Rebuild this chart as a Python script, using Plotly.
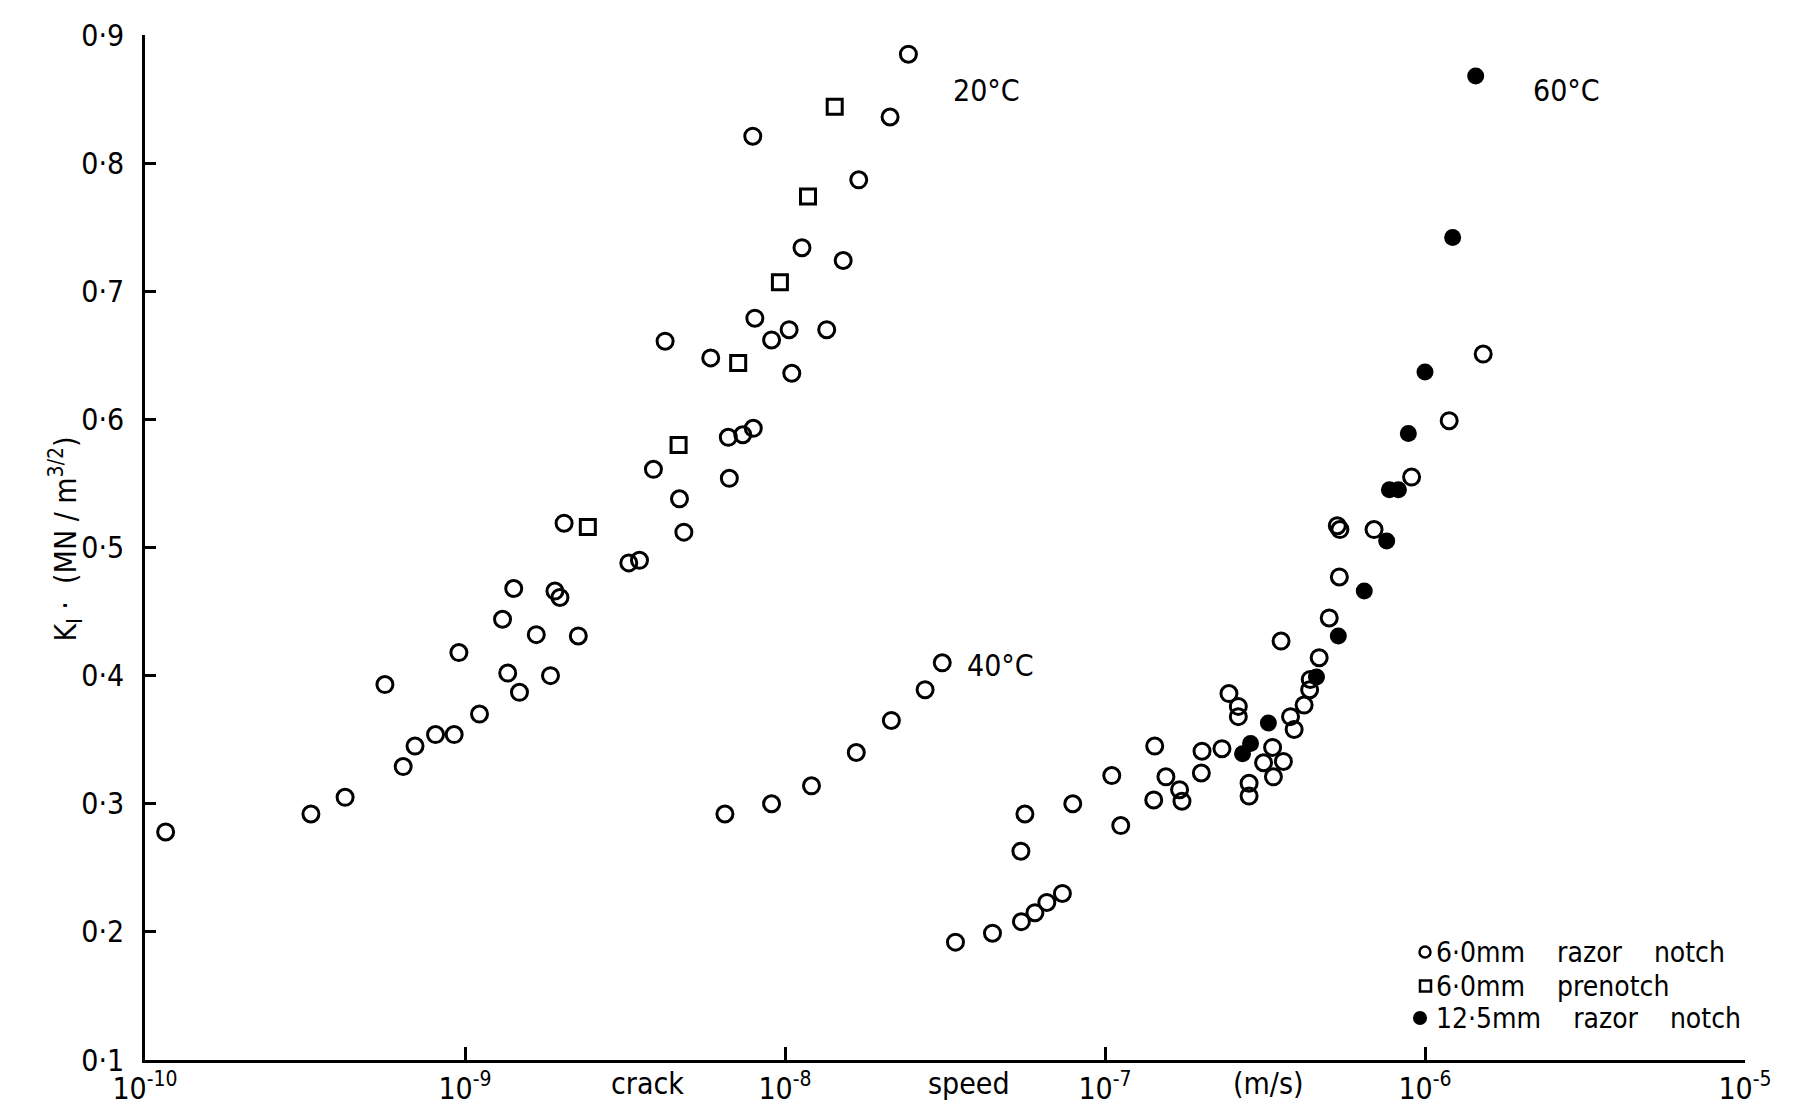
import math
import plotly.graph_objects as go

# Crack speed (m/s) and stress intensity K_I (MN/m^3/2)

# 20 C, 6.0 mm razor notch
speed_20_razor = [1.16e-10, 3.30e-10, 4.22e-10, 5.62e-10, 6.41e-10, 6.98e-10, 8.09e-10, 9.25e-10,
                  9.57e-10, 1.11e-9, 1.31e-9, 1.36e-9, 1.42e-9, 1.48e-9, 1.67e-9, 1.85e-9,
                  1.91e-9, 1.98e-9, 2.04e-9, 2.26e-9, 3.25e-9, 3.51e-9, 3.88e-9, 4.22e-9,
                  4.68e-9, 4.83e-9, 5.86e-9, 6.65e-9, 6.70e-9, 7.38e-9, 7.93e-9, 7.96e-9,
                  8.05e-9, 9.08e-9, 1.03e-8, 1.05e-8, 1.13e-8, 1.35e-8, 1.52e-8, 1.70e-8,
                  2.13e-8, 2.43e-8]
k_20_razor = [0.278, 0.292, 0.305, 0.393, 0.329, 0.345, 0.354, 0.354,
              0.418, 0.370, 0.444, 0.402, 0.468, 0.387, 0.432, 0.400,
              0.466, 0.461, 0.519, 0.431, 0.488, 0.490, 0.561, 0.661,
              0.538, 0.512, 0.648, 0.586, 0.554, 0.588, 0.821, 0.593,
              0.679, 0.662, 0.670, 0.636, 0.734, 0.670, 0.724, 0.787,
              0.836, 0.885]

# 20 C, 6.0 mm prenotch
speed_20_prenotch = [2.42e-9, 4.65e-9, 7.14e-9, 9.64e-9, 1.18e-8, 1.43e-8]
k_20_prenotch = [0.516, 0.580, 0.644, 0.707, 0.774, 0.844]

# 40 C, 6.0 mm razor notch
speed_40_razor = [6.49e-9, 9.08e-9, 1.21e-8, 1.67e-8, 2.15e-8, 2.74e-8, 3.10e-8]
k_40_razor = [0.292, 0.300, 0.314, 0.340, 0.365, 0.389, 0.410]

# 60 C, 6.0 mm razor notch
speed_60_razor = [3.41e-8, 4.45e-8, 5.48e-8, 5.46e-8, 5.62e-8, 6.04e-8, 6.58e-8, 7.36e-8,
                  7.93e-8, 1.05e-7, 1.12e-7, 1.43e-7, 1.42e-7, 1.55e-7, 1.71e-7, 1.74e-7,
                  2.01e-7, 2.00e-7, 2.32e-7, 2.44e-7, 2.61e-7, 2.61e-7, 2.82e-7, 2.82e-7,
                  3.13e-7, 3.34e-7, 3.36e-7, 3.55e-7, 3.61e-7, 3.80e-7, 3.90e-7, 4.19e-7,
                  4.36e-7, 4.38e-7, 4.67e-7, 5.02e-7, 5.32e-7, 5.40e-7, 5.42e-7, 6.93e-7,
                  9.08e-7, 1.19e-6, 1.52e-6]
k_60_razor = [0.192, 0.199, 0.208, 0.263, 0.292, 0.215, 0.223, 0.230,
              0.300, 0.322, 0.283, 0.345, 0.303, 0.321, 0.311, 0.302,
              0.341, 0.324, 0.343, 0.386, 0.376, 0.368, 0.316, 0.306,
              0.332, 0.344, 0.321, 0.427, 0.333, 0.368, 0.358, 0.377,
              0.389, 0.397, 0.414, 0.445, 0.517, 0.477, 0.514, 0.514,
              0.555, 0.599, 0.651]

# 60 C, 12.5 mm razor notch
speed_60_thick = [2.69e-7, 2.85e-7, 3.24e-7, 4.58e-7, 5.36e-7, 6.46e-7, 7.59e-7, 7.74e-7,
                  8.26e-7, 8.87e-7, 1.00e-6, 1.22e-6, 1.44e-6]
k_60_thick = [0.339, 0.347, 0.363, 0.399, 0.431, 0.466, 0.505, 0.545,
              0.545, 0.589, 0.637, 0.742, 0.868]

x_tick_vals = [1e-10, 1e-9, 1e-8, 1e-7, 1e-6, 1e-5]
x_tick_text = ["10<sup>-10</sup>", "10<sup>-9</sup>", "10<sup>-8</sup>",
               "10<sup>-7</sup>", "10<sup>-6</sup>", "10<sup>-5</sup>"]
y_tick_vals = [0.1, 0.2, 0.3, 0.4, 0.5, 0.6, 0.7, 0.8, 0.9]
y_tick_text = ["0·1", "0·2", "0·3", "0·4", "0·5", "0·6", "0·7", "0·8", "0·9"]

temp_labels = ["20°C", "40°C", "60°C"]
temp_label_x = [4.25e-8, 4.73e-8, 2.76e-6]
temp_label_y = [0.857, 0.408, 0.857]

axis_words = ["crack", "speed", "(m/s)"]
axis_word_x = [3.73e-9, 3.77e-8, 3.24e-7]

key_labels = ["6·0mm  razor  notch", "6·0mm  prenotch", "12·5mm  razor  notch"]

FONT = "DejaVu Sans Condensed, DejaVu Sans, sans-serif"
INK = "#000000"
SP = "\u00a0"

# figure geometry (px)
W, H = 1803, 1105
ML, MR, MT, MB = 145, 58, 35, 45
PW, PH = W - ML - MR, H - MT - MB


def px_x(p):
    return (p - ML) / PW


def px_y(p):
    return (H - MB - p) / PH


open_marker = dict(symbol="circle-open", size=16, color=INK, line=dict(width=3, color=INK))
square_marker = dict(symbol="square-open", size=15, color=INK, line=dict(width=3, color=INK))
solid_marker = dict(symbol="circle", size=17, color=INK, line=dict(width=0))

fig = go.Figure()
fig.add_trace(go.Scatter(x=speed_20_razor, y=k_20_razor, mode="markers", marker=open_marker,
                         name=key_labels[0] + ", 20°C"))
fig.add_trace(go.Scatter(x=speed_20_prenotch, y=k_20_prenotch, mode="markers", marker=square_marker,
                         name=key_labels[1] + ", 20°C"))
fig.add_trace(go.Scatter(x=speed_40_razor, y=k_40_razor, mode="markers", marker=open_marker,
                         name=key_labels[0] + ", 40°C"))
fig.add_trace(go.Scatter(x=speed_60_razor, y=k_60_razor, mode="markers", marker=open_marker,
                         name=key_labels[0] + ", 60°C"))
fig.add_trace(go.Scatter(x=speed_60_thick, y=k_60_thick, mode="markers", marker=solid_marker,
                         name=key_labels[2] + ", 60°C"))

# temperature labels next to each data group
for txt, tx, ty in zip(temp_labels, temp_label_x, temp_label_y):
    fig.add_annotation(x=math.log10(tx), y=ty, xref="x", yref="y", text=txt, showarrow=False,
                       font=dict(family=FONT, size=30, color=INK))

# axis title spread between the x tick labels
for txt, wx in zip(axis_words, axis_word_x):
    fig.add_annotation(x=math.log10(wx), y=px_y(1083), xref="x", yref="paper", text=txt,
                       showarrow=False, yanchor="middle",
                       font=dict(family=FONT, size=30, color=INK))

fig.add_annotation(x=px_x(42), y=px_y(539), xref="paper", yref="paper",
                   text="K<sub>I</sub>" + SP + "·" + SP * 2 + "(MN" + SP + "/" + SP + "m<sup>3/2</sup>)",
                   textangle=-90, showarrow=False,
                   font=dict(family=FONT, size=30, color=INK))

# key in the lower right corner
key_rows_y = [952, 986, 1018]
key_text_x = 1434
for label, ry in zip(key_labels, key_rows_y):
    fig.add_annotation(x=px_x(key_text_x), y=px_y(ry), xref="paper", yref="paper",
                       text=label.replace("  ", SP * 4), showarrow=False,
                       xanchor="left", yanchor="middle",
                       font=dict(family=FONT, size=28, color=INK))

r = 5.5
cy = key_rows_y[0]
fig.add_shape(type="circle", xref="paper", yref="paper",
              x0=px_x(1425 - r), x1=px_x(1425 + r), y0=px_y(cy + r), y1=px_y(cy - r),
              line=dict(color=INK, width=2.5), fillcolor="white")
cy = key_rows_y[1]
fig.add_shape(type="rect", xref="paper", yref="paper",
              x0=px_x(1420), x1=px_x(1431), y0=px_y(cy + 5.5), y1=px_y(cy - 5.5),
              line=dict(color=INK, width=2.5), fillcolor="white")
cy = key_rows_y[2]
r = 7
fig.add_shape(type="circle", xref="paper", yref="paper",
              x0=px_x(1420 - r), x1=px_x(1420 + r), y0=px_y(cy + r), y1=px_y(cy - r),
              line=dict(color=INK, width=0), fillcolor=INK)

fig.update_xaxes(type="log", range=[-10, -5], tickvals=x_tick_vals, ticktext=x_tick_text,
                 ticks="inside", ticklen=13, tickwidth=2.5, tickcolor=INK, automargin=False,
                 showline=True, linewidth=2.5, linecolor=INK, showgrid=False, zeroline=False,
                 tickfont=dict(family=FONT, size=30, color=INK))
fig.update_yaxes(range=[0.1, 0.9], tickvals=y_tick_vals, ticktext=y_tick_text,
                 ticks="inside", ticklen=11, tickwidth=2.5, tickcolor=INK, automargin=False,
                 showline=True, linewidth=2.5, linecolor=INK, showgrid=False, zeroline=False,
                 ticklabelstandoff=12,
                 tickfont=dict(family=FONT, size=30, color=INK))

fig.update_layout(
    width=W, height=H,
    margin=dict(l=ML, r=MR, t=MT, b=MB, autoexpand=False),
    plot_bgcolor="white", paper_bgcolor="white",
    font=dict(family=FONT, color=INK),
    showlegend=False,
)

fig.write_html("out.html")
